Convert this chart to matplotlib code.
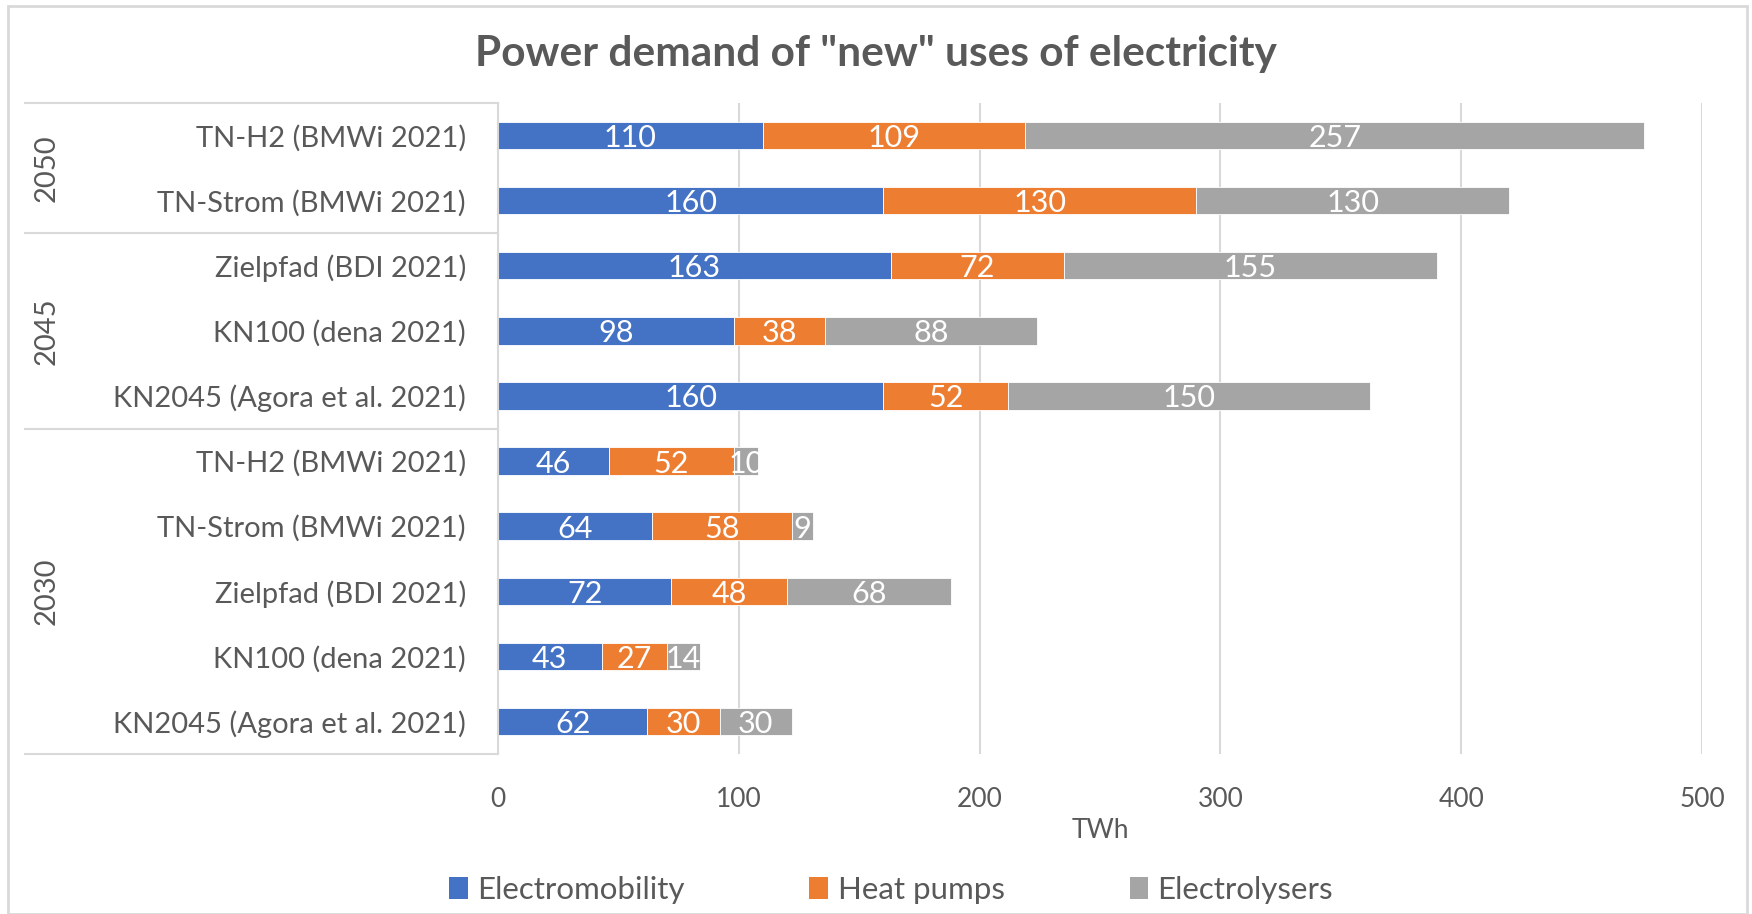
import matplotlib.pyplot as plt
import matplotlib.transforms as mtransforms
from matplotlib.patches import Rectangle, Patch
from matplotlib.lines import Line2D

plt.rcParams['font.family'] = ['Lato', 'DejaVu Sans']

# Data (top to bottom as shown)
scenarios = ['TN-H2 (BMWi 2021)', 'TN-Strom (BMWi 2021)',
             'Zielpfad (BDI 2021)', 'KN100 (dena 2021)', 'KN2045 (Agora et al. 2021)',
             'TN-H2 (BMWi 2021)', 'TN-Strom (BMWi 2021)', 'Zielpfad (BDI 2021)',
             'KN100 (dena 2021)', 'KN2045 (Agora et al. 2021)']
years = ['2050', '2045', '2030']
year_counts = [2, 3, 5]
electromobility = [110, 160, 163, 98, 160, 46, 64, 72, 43, 62]
heat_pumps = [109, 130, 72, 38, 52, 52, 58, 48, 27, 30]
electrolysers = [257, 130, 155, 88, 150, 10, 9, 68, 14, 30]
series_names = ['Electromobility', 'Heat pumps', 'Electrolysers']
colors = ['#4472C4', '#ED7D31', '#A5A5A5']
text_color = '#595959'
grid_color = '#D9D9D9'

W, H = 1752, 914
fig = plt.figure(figsize=(W / 100, H / 100), dpi=100)
ax = fig.add_axes([498 / W, 1 - 754 / H, (1702 - 498) / W, (754 - 103) / H])

y = list(range(len(scenarios)))
left = [0] * len(y)
for vals, name, col in zip([electromobility, heat_pumps, electrolysers], series_names, colors):
    bars = ax.barh(y, vals, left=left, height=0.42, color=col, edgecolor='white',
                   linewidth=0.6, label=name)
    labels = ax.bar_label(bars, labels=[str(v) for v in vals], label_type='center',
                          color='white', fontsize=22)
    for t in labels:
        t.set_va('center_baseline')
    left = [a + b for a, b in zip(left, vals)]

ax.set_ylim(len(y) - 0.5, -0.5)
ax.set_xlim(0, 500)
ax.set_xticks([0, 100, 200, 300, 400, 500])
ax.set_yticks(y)
ax.set_yticklabels(scenarios, fontsize=21, color=text_color)
ax.tick_params(axis='y', length=0, pad=23)
ax.tick_params(axis='x', length=0, pad=24, labelsize=19, labelcolor=text_color)
ax.xaxis.grid(True, color=grid_color, linewidth=1.5)
ax.set_axisbelow(True)
for s in ['top', 'right', 'bottom']:
    ax.spines[s].set_visible(False)
ax.spines['left'].set_color(grid_color)
ax.spines['left'].set_linewidth(1.5)

ax.set_xlabel('TWh', fontsize=19, color=text_color, va='center')
ax.xaxis.set_label_coords(0.5, -0.117)

# multi-level category axis: year groups
trans = mtransforms.blended_transform_factory(fig.transFigure, ax.transData)
start = -0.5
ax.add_line(Line2D([25 / W, 498 / W], [start, start], transform=trans,
                   color=grid_color, linewidth=1.5, clip_on=False))
for yr, n in zip(years, year_counts):
    end = start + n
    ax.add_line(Line2D([25 / W, 498 / W], [end, end], transform=trans,
                       color=grid_color, linewidth=1.5, clip_on=False))
    ax.text(47 / W, (start + end) / 2, yr, transform=trans, rotation=90,
            ha='center', va='center', fontsize=21, color=text_color)
    start = end

fig.text(876 / W, 1 - 54 / H, 'Power demand of "new" uses of electricity',
         ha='center', va='center', fontsize=30.5, fontweight='bold', color=text_color)

handles = [Patch(facecolor=c, label=n) for c, n in zip(colors, series_names)]
fig.legend(handles=handles, loc='center', bbox_to_anchor=(891 / W, 1 - 890 / H), ncol=3,
           frameon=False, fontsize=22.5, labelcolor=text_color, handlelength=0.6,
           handleheight=0.7, handletextpad=0.3, columnspacing=4.0)

# chart border
fig.patches.append(Rectangle((8 / W, 0), (1747 - 8) / W, 1 - 6 / H, transform=fig.transFigure,
                             fill=False, edgecolor=grid_color, linewidth=2))

fig.savefig('out.png', dpi=100)
